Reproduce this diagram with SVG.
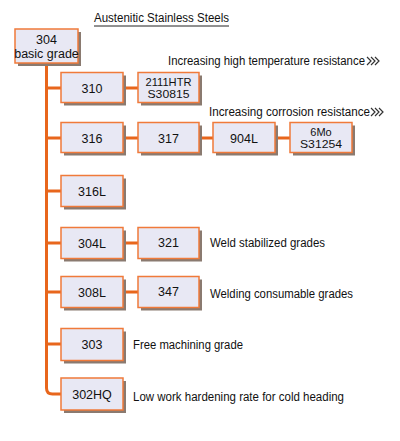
<svg xmlns="http://www.w3.org/2000/svg" width="400" height="441" viewBox="0 0 400 441">
<defs>
<style>
.bx{fill:#e8e8f4;stroke:#f07a3a;stroke-width:1.5}
.sh{fill:#8a7a70}
.t{font-family:"Liberation Sans",Arial,sans-serif;font-size:12.5px;fill:#111;text-anchor:middle}
.t2{font-family:"Liberation Sans",Arial,sans-serif;font-size:11px;fill:#111;text-anchor:middle}
.l{font-family:"Liberation Sans",Arial,sans-serif;font-size:12.5px;fill:#111}
.c{fill:none;stroke:#e8661c;stroke-width:3}
.ch{fill:none;stroke:#333;stroke-width:1.2}
</style>
</defs>
<rect width="400" height="441" fill="#fff"/>
<text class="l" x="94" y="22" textLength="135" lengthAdjust="spacingAndGlyphs">Austenitic Stainless Steels</text>
<line x1="94" y1="26" x2="229" y2="26" stroke="#222" stroke-width="1"/>
<g id="connectors">
<path class="c" d="M46.5 63 V388 Q46.5 394 52.5 394 H61"/>
<path class="c" d="M46.5 88 H61 M46.5 138 H61 M46.5 191 H61 M46.5 243 H61 M46.5 292 H61 M46.5 344 H61"/>
<path class="c" d="M123 88 H138 M123 138 H138 M199 138 H213 M275 138 H290 M123 243 H138 M123 292 H138"/>
</g>
<g id="n304"><rect class="sh" x="18" y="32" width="63" height="34"/><rect class="bx" x="15" y="29" width="63" height="34"/><text class="t" x="46.5" y="44">304</text><text class="t" x="46.5" y="58">basic grade</text></g>
<g id="n310"><rect class="sh" x="64" y="75.5" width="62" height="30"/><rect class="bx" x="61" y="72.5" width="62" height="30"/><text class="t" x="92" y="92.5">310</text></g>
<g id="n2111"><rect class="sh" x="141" y="75.5" width="61" height="30"/><rect class="bx" x="138" y="72.5" width="61" height="30"/><text class="t2" x="168.5" y="85.5" textLength="46" lengthAdjust="spacingAndGlyphs">2111HTR</text><text class="t2" x="168.5" y="98" textLength="42" lengthAdjust="spacingAndGlyphs">S30815</text></g>
<g id="n316"><rect class="sh" x="64" y="125.5" width="62" height="30"/><rect class="bx" x="61" y="122.5" width="62" height="30"/><text class="t" x="92" y="142.5">316</text></g>
<g id="n317"><rect class="sh" x="141" y="125.5" width="61" height="30"/><rect class="bx" x="138" y="122.5" width="61" height="30"/><text class="t" x="168.5" y="142.5">317</text></g>
<g id="n904L"><rect class="sh" x="216" y="125.5" width="62" height="30"/><rect class="bx" x="213" y="122.5" width="62" height="30"/><text class="t" x="244" y="142.5">904L</text></g>
<g id="n6Mo"><rect class="sh" x="293" y="125.5" width="62" height="30"/><rect class="bx" x="290" y="122.5" width="62" height="30"/><text class="t2" x="321" y="135.5">6Mo</text><text class="t2" x="321" y="148" textLength="42" lengthAdjust="spacingAndGlyphs">S31254</text></g>
<g id="n316L"><rect class="sh" x="64" y="178.5" width="62" height="31"/><rect class="bx" x="61" y="175.5" width="62" height="31"/><text class="t" x="92" y="195.5">316L</text></g>
<g id="n304L"><rect class="sh" x="64" y="230.5" width="62" height="31"/><rect class="bx" x="61" y="227.5" width="62" height="31"/><text class="t" x="92" y="247.5">304L</text></g>
<g id="n321"><rect class="sh" x="141" y="230.5" width="61" height="31"/><rect class="bx" x="138" y="227.5" width="61" height="31"/><text class="t" x="168.5" y="247">321</text></g>
<g id="n308L"><rect class="sh" x="64" y="279.5" width="62" height="31"/><rect class="bx" x="61" y="276.5" width="62" height="31"/><text class="t" x="92" y="296.5">308L</text></g>
<g id="n347"><rect class="sh" x="141" y="279.5" width="61" height="31"/><rect class="bx" x="138" y="276.5" width="61" height="31"/><text class="t" x="168.5" y="296">347</text></g>
<g id="n303"><rect class="sh" x="64" y="331.5" width="62" height="32"/><rect class="bx" x="61" y="328.5" width="62" height="32"/><text class="t" x="92" y="349">303</text></g>
<g id="n302HQ"><rect class="sh" x="64" y="381" width="62" height="32"/><rect class="bx" x="61" y="378" width="62" height="32"/><text class="t" x="92" y="399">302HQ</text></g>
<text class="l" x="168" y="65" textLength="197" lengthAdjust="spacingAndGlyphs">Increasing high temperature resistance</text>
<path class="ch" d="M367 57 l4 4 l-4 4 M371 57 l4 4 l-4 4 M375 57 l4 4 l-4 4"/>
<text class="l" x="209" y="116" textLength="161" lengthAdjust="spacingAndGlyphs">Increasing corrosion resistance</text>
<path class="ch" d="M371 108 l4 4 l-4 4 M375 108 l4 4 l-4 4 M379 108 l4 4 l-4 4"/>
<text class="l" x="210" y="247" textLength="115" lengthAdjust="spacingAndGlyphs">Weld stabilized grades</text>
<text class="l" x="210" y="298" textLength="143" lengthAdjust="spacingAndGlyphs">Welding consumable grades</text>
<text class="l" x="133" y="349" textLength="110" lengthAdjust="spacingAndGlyphs">Free machining grade</text>
<text class="l" x="133" y="401" textLength="211" lengthAdjust="spacingAndGlyphs">Low work hardening rate for cold heading</text>
</svg>
